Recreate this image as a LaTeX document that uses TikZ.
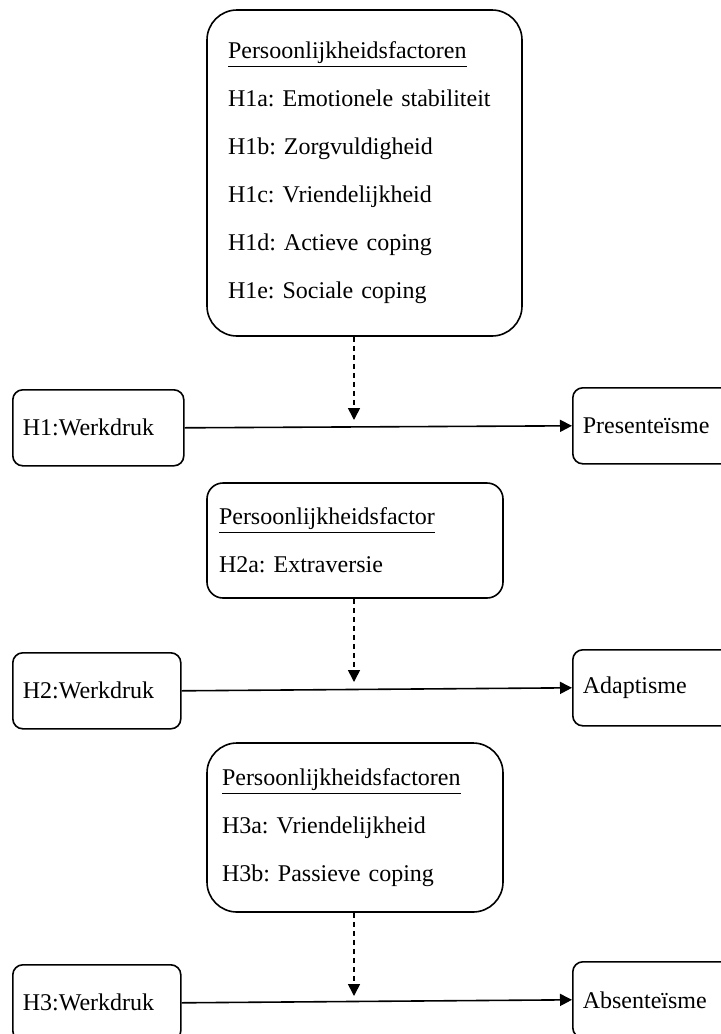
\documentclass[tikz,border=0pt]{standalone}
\usepackage{fontspec}
\setmainfont{Liberation Serif}
\usetikzlibrary{calc}
\usetikzlibrary{arrows.meta}
\frenchspacing

\begin{document}
\begin{tikzpicture}[
		x=0.5pt, y=-0.5pt,
		factorbox/.style={draw, line width=0.8pt, align=left, font=\fontsize{12}{24}\selectfont},
		sidebox/.style={draw, line width=0.8pt, rounded corners=5pt, align=left, anchor=north west, minimum height=38pt, inner xsep=5pt, font=\fontsize{12}{14}\selectfont},
		effect/.style={line width=0.8pt, -{Triangle[width=6pt, length=6pt]}},
		moderation/.style={line width=0.8pt, dash pattern=on 2.5pt off 2pt, -{Triangle[width=6pt, length=6pt]}}
	]
	
	% the page, the boxes on the right run over its edge
	\path[use as bounding box, clip] (0,0) rectangle (721,1034);
	
	% the moderators
	\node[factorbox, rounded corners=15pt, text width=136.5pt, inner xsep=10.5pt, minimum height=163pt] (f1) at (364.5,173) {\underline{Persoonlijkheidsfactoren}\\H1a: Emotionele stabiliteit\\H1b: Zorgvuldigheid\\H1c: Vriendelijkheid\\H1d: Actieve coping\\H1e: Sociale coping};
	\node[factorbox, rounded corners=8pt, text width=136pt, inner xsep=6pt, minimum height=57.5pt] (f2) at (355,540.5) {\underline{Persoonlijkheidsfactor}\\H2a: Extraversie};
	\node[factorbox, rounded corners=15pt, text width=133pt, inner xsep=7.5pt, minimum height=84.5pt] (f3) at (355,827.5) {\underline{Persoonlijkheidsfactoren}\\H3a: Vriendelijkheid\\H3b: Passieve coping};
	
	% predictors and outcomes
	\node[sidebox, text width=75.5pt] (w1) at (12,389) {H1:Werkdruk};
	\node[sidebox, text width=75pt] (o1) at (572,387) {Presenteïsme};
	\node[sidebox, text width=74pt] (w2) at (12,652) {H2:Werkdruk};
	\node[sidebox, text width=75pt] (o2) at (572,649) {Adaptisme};
	\node[sidebox, text width=74pt] (w3) at (12,964) {H3:Werkdruk};
	\node[sidebox, text width=75pt] (o3) at (572,961) {Absenteïsme};
	
	% main effects
	\draw[effect] (w1.east) -- (o1.west);
	\draw[effect] (w2.east) -- (o2.west);
	\draw[effect] (w3.east) -- (o3.west);
	
	% moderation, the tips stop just above the lines
	\coordinate (m1) at (354,420);
	\coordinate (m2) at (354,682);
	\coordinate (m3) at (354,996);
	\draw[moderation] (f1.south -| m1) -- (m1);
	\draw[moderation] (f2.south -| m2) -- (m2);
	\draw[moderation] (f3.south -| m3) -- (m3);
	
\end{tikzpicture}
\end{document}
